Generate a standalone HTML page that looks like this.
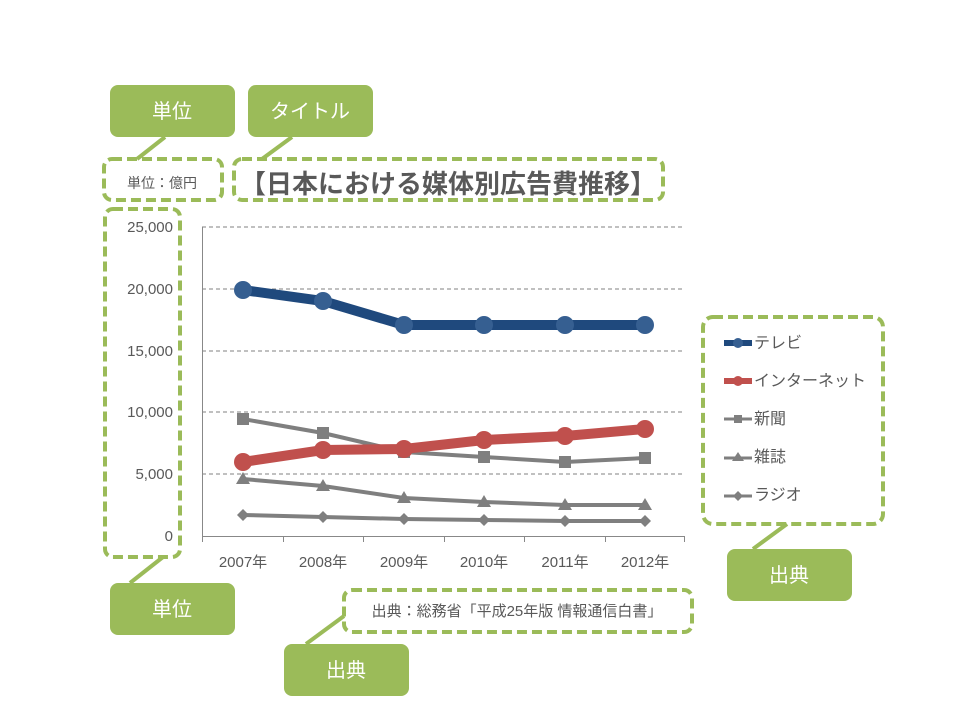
<!DOCTYPE html><html><head><meta charset="utf-8"><style>body{margin:0;background:#fff}svg{display:block}text{font-family:"Liberation Sans","Noto Sans CJK JP",sans-serif}</style></head><body>
<svg width="960" height="720" viewBox="0 0 960 720" xmlns="http://www.w3.org/2000/svg">
<g fill="none" stroke="#9bbb59" stroke-width="4" stroke-dasharray="10,5">
<rect x="104" y="159" width="118" height="41" rx="8"/>
<rect x="234" y="159" width="429" height="41" rx="8"/>
<rect x="105" y="209" width="75" height="348" rx="8"/>
<rect x="703" y="317" width="180" height="207" rx="10"/>
<rect x="344" y="590" width="348" height="42" rx="8"/>
</g>
<g stroke="#9bbb59" stroke-width="4">
<line x1="165" y1="137" x2="137" y2="159"/><line x1="292" y1="137" x2="262" y2="159"/>
<line x1="163" y1="557" x2="130" y2="583"/><line x1="344" y1="616" x2="306" y2="644"/>
<line x1="787" y1="524" x2="753" y2="549"/>
</g>
<g fill="#9bbb59">
<rect x="110" y="85" width="125" height="52" rx="8"/><rect x="248" y="85" width="125" height="52" rx="8"/>
<rect x="110" y="583" width="125" height="52" rx="8"/><rect x="284" y="644" width="125" height="52" rx="8"/>
<rect x="727" y="549" width="125" height="52" rx="8"/>
</g>
<g fill="#fff" font-size="20" text-anchor="middle">
<text x="172" y="118">単位</text><text x="310" y="118">タイトル</text>
<text x="172" y="616">単位</text><text x="346" y="677">出典</text><text x="789" y="582">出典</text>
</g>
<text x="162" y="188" font-size="14" fill="#595959" text-anchor="middle">単位：億円</text>
<text x="448" y="193" font-size="26" font-weight="bold" fill="#595959" text-anchor="middle">【日本における媒体別広告費推移】</text>
<text x="517" y="616" font-size="15" fill="#595959" text-anchor="middle">出典：総務省「平成25年版 情報通信白書」</text>
<g stroke="#808080" stroke-width="1" stroke-dasharray="4,3">
<line x1="202" y1="227" x2="682" y2="227"/><line x1="202" y1="289" x2="682" y2="289"/><line x1="202" y1="351" x2="682" y2="351"/><line x1="202" y1="412" x2="682" y2="412"/><line x1="202" y1="474" x2="682" y2="474"/>
</g>
<g stroke="#888" stroke-width="1"><line x1="202.5" y1="227" x2="202.5" y2="537"/><line x1="202" y1="536.5" x2="685" y2="536.5"/>
<line x1="202.5" y1="536" x2="202.5" y2="542"/><line x1="283.5" y1="536" x2="283.5" y2="542"/><line x1="363.5" y1="536" x2="363.5" y2="542"/><line x1="444.5" y1="536" x2="444.5" y2="542"/><line x1="524.5" y1="536" x2="524.5" y2="542"/><line x1="605.5" y1="536" x2="605.5" y2="542"/><line x1="684.5" y1="536" x2="684.5" y2="542"/></g>
<g font-size="15" fill="#595959" text-anchor="end"><text x="173" y="232">25,000</text><text x="173" y="294">20,000</text><text x="173" y="356">15,000</text><text x="173" y="417">10,000</text><text x="173" y="479">5,000</text><text x="173" y="541">0</text></g>
<g font-size="15" fill="#595959" text-anchor="middle"><text x="243" y="567">2007年</text><text x="323" y="567">2008年</text><text x="404" y="567">2009年</text><text x="484" y="567">2010年</text><text x="565" y="567">2011年</text><text x="645" y="567">2012年</text></g>
<polyline points="243,515 323,517 404,519 484,520 565,521 645,521" fill="none" stroke="#7f7f7f" stroke-width="4"/>
<g fill="#7f7f7f"><path d="M243,509l6,6-6,6-6-6z"/><path d="M323,511l6,6-6,6-6-6z"/><path d="M404,513l6,6-6,6-6-6z"/><path d="M484,514l6,6-6,6-6-6z"/><path d="M565,515l6,6-6,6-6-6z"/><path d="M645,515l6,6-6,6-6-6z"/></g>
<polyline points="243,479 323,486 404,498 484,502 565,505 645,505" fill="none" stroke="#7f7f7f" stroke-width="4"/>
<g fill="#7f7f7f"><path d="M243,472l7,12h-14z"/><path d="M323,479l7,12h-14z"/><path d="M404,491l7,12h-14z"/><path d="M484,495l7,12h-14z"/><path d="M565,498l7,12h-14z"/><path d="M645,498l7,12h-14z"/></g>
<polyline points="243,419 323,433 404,452 484,457 565,462 645,458" fill="none" stroke="#7f7f7f" stroke-width="4"/>
<g fill="#7f7f7f"><rect x="237" y="413" width="12" height="12"/><rect x="317" y="427" width="12" height="12"/><rect x="398" y="446" width="12" height="12"/><rect x="478" y="451" width="12" height="12"/><rect x="559" y="456" width="12" height="12"/><rect x="639" y="452" width="12" height="12"/></g>
<polyline points="243,462 323,450 404,449 484,440 565,436 645,429" fill="none" stroke="#c0504d" stroke-width="10"/>
<g fill="#c0504d"><circle cx="243" cy="462" r="9"/><circle cx="323" cy="450" r="9"/><circle cx="404" cy="449" r="9"/><circle cx="484" cy="440" r="9"/><circle cx="565" cy="436" r="9"/><circle cx="645" cy="429" r="9"/></g>
<polyline points="243,290 323,301 404,325 484,325 565,325 645,325" fill="none" stroke="#1f497d" stroke-width="10"/>
<g fill="#365f91"><circle cx="243" cy="290" r="9"/><circle cx="323" cy="301" r="9"/><circle cx="404" cy="325" r="9"/><circle cx="484" cy="325" r="9"/><circle cx="565" cy="325" r="9"/><circle cx="645" cy="325" r="9"/></g>
<line x1="724" y1="343" x2="752" y2="343" stroke="#1f497d" stroke-width="6"/><circle cx="738" cy="343" r="5" fill="#365f91"/>
<line x1="724" y1="381" x2="752" y2="381" stroke="#c0504d" stroke-width="6"/><circle cx="738" cy="381" r="5" fill="#c0504d"/>
<line x1="724" y1="419" x2="752" y2="419" stroke="#7f7f7f" stroke-width="3"/><rect x="734" y="415" width="8" height="8" fill="#7f7f7f"/>
<line x1="724" y1="458" x2="752" y2="458" stroke="#7f7f7f" stroke-width="3"/><path d="M738,452l6,9h-12z" fill="#7f7f7f"/>
<line x1="724" y1="496" x2="752" y2="496" stroke="#7f7f7f" stroke-width="3"/><path d="M738,491l5,5-5,5-5-5z" fill="#7f7f7f"/>
<g font-size="16" fill="#595959"><text x="754" y="348">テレビ</text><text x="754" y="386">インターネット</text><text x="754" y="424">新聞</text><text x="754" y="462">雑誌</text><text x="754" y="500">ラジオ</text></g>
</svg></body></html>
